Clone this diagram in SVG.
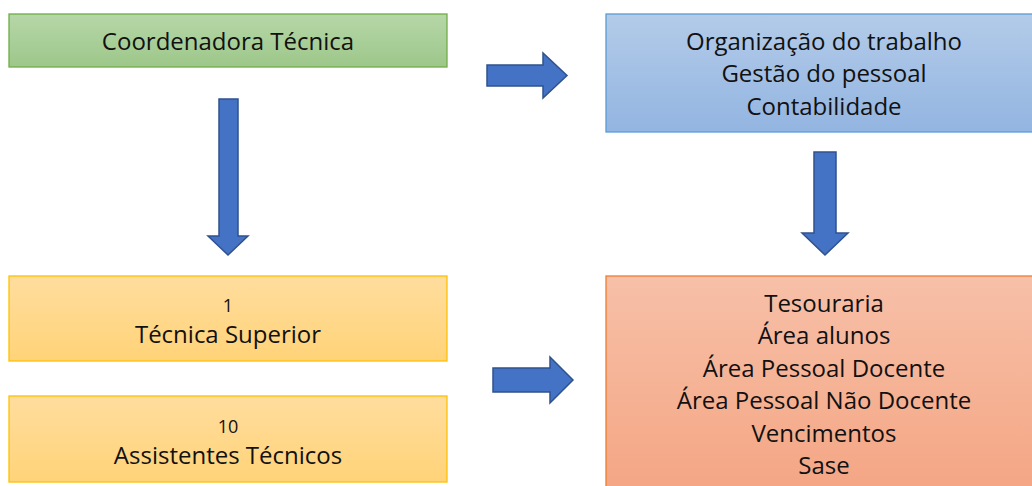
<svg xmlns="http://www.w3.org/2000/svg" width="1032" height="486" viewBox="0 0 1032 486">
<defs>
<linearGradient id="gGreen" x1="0" y1="0" x2="0" y2="1"><stop offset="0" stop-color="#b6d7a8"/><stop offset="1" stop-color="#9dc78a"/></linearGradient>
<linearGradient id="gBlue" x1="0" y1="0" x2="0" y2="1"><stop offset="0" stop-color="#b3cbe9"/><stop offset="1" stop-color="#93b5e1"/></linearGradient>
<linearGradient id="gYellow" x1="0" y1="0" x2="0" y2="1"><stop offset="0" stop-color="#ffdd9e"/><stop offset="1" stop-color="#ffd378"/></linearGradient>
<linearGradient id="gOrange" x1="0" y1="0" x2="0" y2="1"><stop offset="0" stop-color="#f7c0a8"/><stop offset="1" stop-color="#f4a583"/></linearGradient>
</defs>
<style>
text{font-family:"Open Sans","Noto Sans",sans-serif;font-size:24px;fill:#111;text-anchor:middle}
.num{font-size:18px}
.arrow{fill:#4472c4;stroke:#2f528f;stroke-width:1.5;stroke-linejoin:miter}
</style>
<g id="coordenadora">
<rect x="9" y="14" width="438" height="53" fill="url(#gGreen)" stroke="#70ad47" stroke-width="1.3"/>
<text x="228" y="50">Coordenadora Técnica</text>
</g>
<g id="organizacao">
<rect x="606" y="14" width="440" height="118" fill="url(#gBlue)" stroke="#5b9bd5" stroke-width="1.3"/>
<text x="824" y="50">Organização do trabalho</text>
<text x="824" y="82">Gestão do pessoal</text>
<text x="824" y="115">Contabilidade</text>
</g>
<g id="tecnica">
<rect x="9" y="276" width="438" height="85" fill="url(#gYellow)" stroke="#ffc000" stroke-width="1.3"/>
<text class="num" x="228" y="312">1</text>
<text x="228" y="343">Técnica Superior</text>
</g>
<g id="assistentes">
<rect x="9" y="396" width="438" height="86" fill="url(#gYellow)" stroke="#ffc000" stroke-width="1.3"/>
<text class="num" x="228" y="433">10</text>
<text x="228" y="464">Assistentes Técnicos</text>
</g>
<g id="areas">
<rect x="606" y="276" width="440" height="220" fill="url(#gOrange)" stroke="#ed7d31" stroke-width="1.3"/>
<text x="824" y="312">Tesouraria</text>
<text x="824" y="344">Área alunos</text>
<text x="824" y="377">Área Pessoal Docente</text>
<text x="824" y="409">Área Pessoal Não Docente</text>
<text x="824" y="442">Vencimentos</text>
<text x="824" y="474">Sase</text>
</g>
<g id="connectors">
<polygon class="arrow" points="487,65 543,65 543,53 567,75.5 543,98 543,86 487,86"/>
<polygon class="arrow" points="219,99 238,99 238,236 248,236 228,255 208,236 219,236"/>
<polygon class="arrow" points="814,152 836,152 836,233 848,233 825,255 802,233 814,233"/>
<polygon class="arrow" points="493,368 550,368 550,357 573,380 550,403 550,392 493,392"/>
</g>
</svg>
